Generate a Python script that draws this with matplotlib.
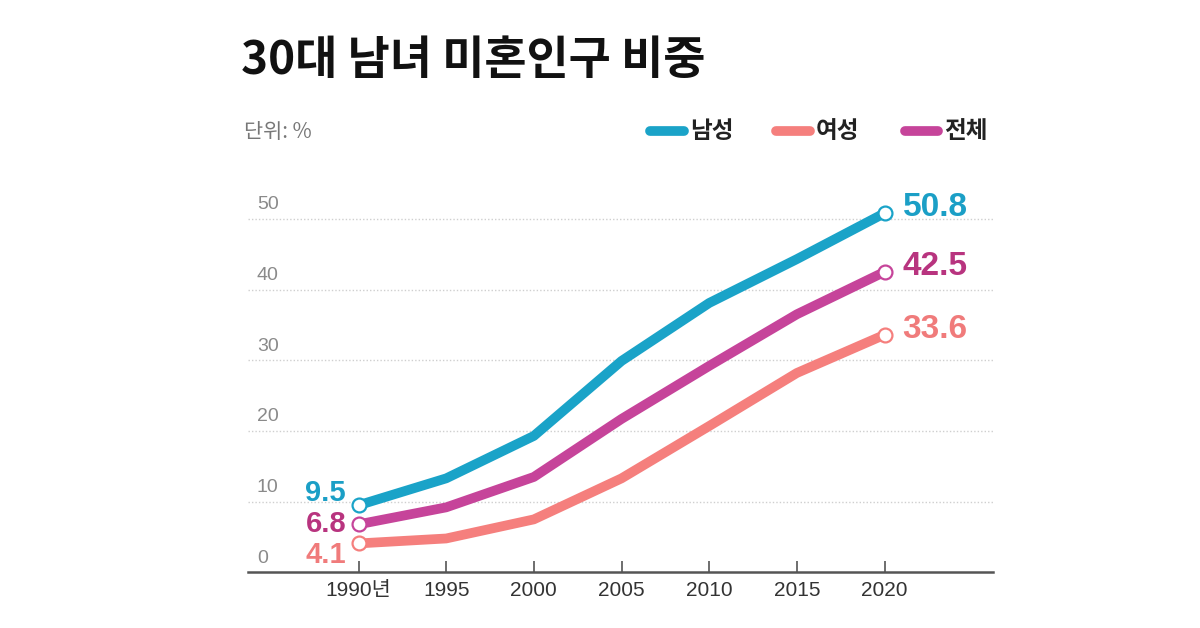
import matplotlib
matplotlib.use("Agg")
import matplotlib.pyplot as plt
from matplotlib.lines import Line2D

# data (share of never-married people in their 30s, %)
years = [1990, 1995, 2000, 2005, 2010, 2015, 2020]
men = [9.5, 13.3, 19.3, 29.9, 38.1, 44.3, 50.8]
women = [4.1, 4.8, 7.5, 13.3, 20.7, 28.2, 33.6]
total = [6.8, 9.2, 13.5, 21.7, 29.2, 36.5, 42.5]
series_names = ["남성", "여성", "전체"]
xtick_labels = ["1990년", "1995", "2000", "2005", "2010", "2015", "2020"]
yticks = [0, 10, 20, 30, 40, 50]

line_colors = ["#1aa3c8", "#f57f7d", "#c6449a"]
text_colors = ["#1b9fc6", "#f07b7b", "#b8347f"]

kr = ["Noto Sans CJK KR", "DejaVu Sans"]
narrow = ["Liberation Sans Narrow", "Liberation Sans", "Noto Sans CJK KR"]
num_font = ["Liberation Sans", "DejaVu Sans"]
plt.rcParams["font.family"] = kr

fig = plt.figure(figsize=(12, 6.28), dpi=100)
ax = fig.add_axes([0.2067, 0.0885, 0.621, 0.625])
ax.set_xlim(1983.7, 2026.2)
ax.set_ylim(0, 55.5)

# dotted grid lines
for v in yticks[1:]:
    ax.axhline(v, color="#cfcfcf", lw=1, ls=(0, (1, 1.5)), zorder=1)

series = [men, women, total]
for vals, c in zip(series, line_colors):
    ax.plot(years, vals, color=c, lw=7, solid_capstyle="round",
            solid_joinstyle="round", zorder=3)
    ax.plot([years[0], years[-1]], [vals[0], vals[-1]], ls="none", marker="o",
            ms=10, mfc="white", mec=c, mew=1.6, zorder=4)

# end labels
for vals, c in zip(series, text_colors):
    ax.annotate(f"{vals[-1]:.1f}", (years[-1], vals[-1]), xytext=(13, 4),
                textcoords="offset points", ha="left", va="center",
                fontsize=24, fontweight="bold", color=c, family=num_font)
# start labels: men / women / total, spread apart so they don't collide
start_offsets = [9, -8, 0]
for vals, c, dy in zip(series, text_colors, start_offsets):
    ax.annotate(f"{vals[0]:.1f}", (years[0], vals[0]), xytext=(-9, dy),
                textcoords="offset points", ha="right", va="center",
                fontsize=21, fontweight="bold", color=c, family=num_font)

# axes styling
for s in ["top", "right", "left"]:
    ax.spines[s].set_visible(False)
ax.spines["bottom"].set_color("#555555")
ax.spines["bottom"].set_linewidth(1.8)
ax.set_xticks(years)
ax.set_xticklabels(xtick_labels, family=narrow, fontsize=15, color="#333333")
ax.tick_params(axis="x", direction="in", length=8, width=1.2, color="#555555", pad=6)
ax.set_yticks([])
for v in yticks:
    ax.text(1984.2, v + 0.8, str(v), ha="left", va="bottom", fontsize=14,
            color="#8a8a8a", family=narrow)

# title and unit
fig.text(0.201, 0.903, "30대 남녀 미혼인구 비중", fontsize=33, fontweight="heavy",
         color="#111111", ha="left", va="center")
fig.text(0.203, 0.79, "단위: %", fontsize=15, color="#777777", ha="left", va="center")

# legend
leg_x = [0.542, 0.647, 0.754]
for lx, name, c in zip(leg_x, series_names, line_colors):
    fig.add_artist(Line2D([lx, lx + 0.028], [0.791, 0.791], color=c, lw=7,
                          solid_capstyle="round", transform=fig.transFigure))
    fig.text(lx + 0.033, 0.791, name, fontsize=17, fontweight="bold",
             color="#222222", ha="left", va="center")

fig.savefig("out.png", dpi=100)
